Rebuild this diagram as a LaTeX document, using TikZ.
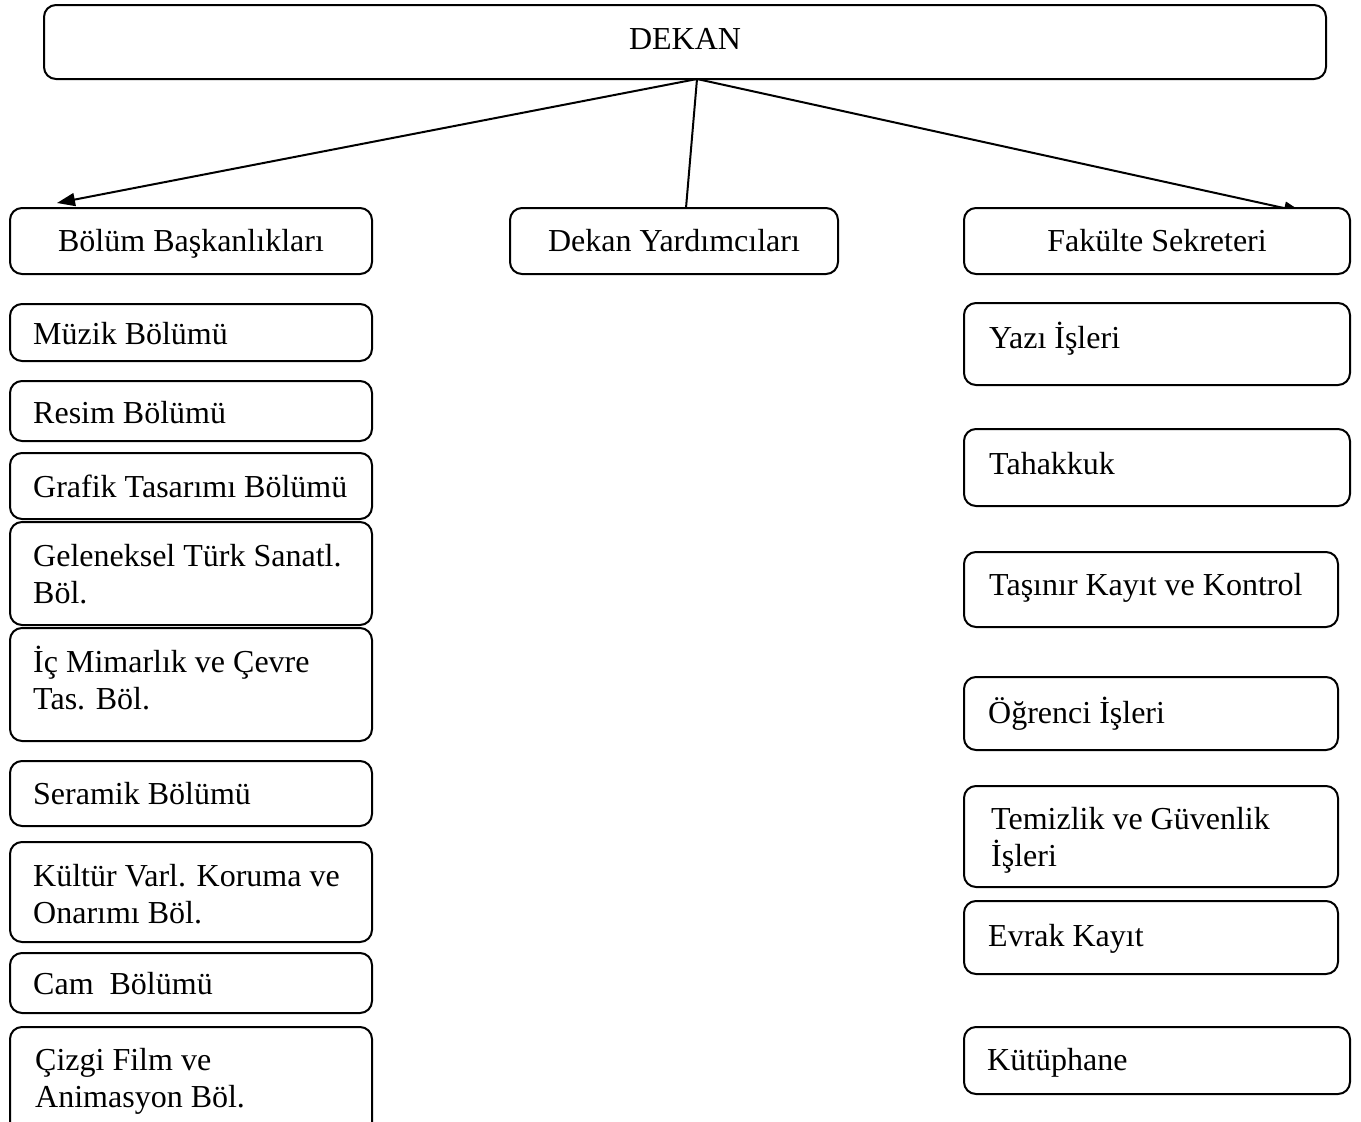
\documentclass[tikz,border=0pt]{standalone}
\usepackage{fontspec}
\setmainfont{Liberation Serif}
\usetikzlibrary{arrows.meta,calc}
\tikzset{
  box/.style={draw, line width=2pt, rounded corners=12pt, fill=white, inner sep=0pt, outer sep=0pt},
  txt/.style={inner sep=0pt, font=\fontsize{32}{37}\selectfont},
  conn/.style={line width=2pt},
  arr/.style={conn, -{Triangle[length=18pt,width=13pt]}}
}
\newcommand{\bx}[5]{\node[box, anchor=north west, minimum width={(#4-#2)*1pt}, minimum height={(#5-#3)*1pt}] (#1) at (#2,#3) {};}
\newcommand{\twol}[2]{\begin{tabular}[t]{@{}l@{}}#1\\#2\end{tabular}}
\begin{document}
\begin{tikzpicture}[x=1pt,y=-1pt]
\useasboundingbox (0,0) rectangle (1361,1122);
\clip (0,0) rectangle (1361,1122);
% connectors
\coordinate (hub) at (697,79);
\coordinate (tipL) at (57,203);
\coordinate (tipM) at (686,208);
\coordinate (tipR) at (1302,212);
\draw[arr] (hub) -- (tipL);
\draw[conn] (hub) -- (tipM);
\draw[arr] (hub) -- (tipR);
% top
\bx{dekan}{44}{5}{1326}{79}
\node[txt, anchor=base] (dekant) at (685,49) {DEKAN};
\bx{bolum}{10}{208}{372}{274}
\node[txt, anchor=base] (bolumt) at (191,251) {Bölüm Başkanlıkları};
\bx{yard}{510}{208}{838}{274}
\node[txt, anchor=base] (yardt) at (674,251) {Dekan Yardımcıları};
\bx{sekr}{964}{208}{1350}{274}
\node[txt, anchor=base] (sekrt) at (1157,251) {Fakülte Sekreteri};
% left column
\bx{L1}{10}{304}{372}{361}
\node[txt, anchor=base west] (L1t) at (33,344) {Müzik Bölümü};
\bx{L2}{10}{381}{372}{441}
\node[txt, anchor=base west] (L2t) at (33,423) {Resim Bölümü};
\bx{L3}{10}{453}{372}{519}
\node[txt, anchor=base west] (L3t) at (33,497) {Grafik Tasarımı Bölümü};
\bx{L4}{10}{522}{372}{625}
\node[txt, anchor=base west] (L4t) at (33,566) {\twol{Geleneksel Türk Sanatl.}{Böl.}};
\bx{L5}{10}{628}{372}{741}
\node[txt, anchor=base west] (L5t) at (33,672) {\twol{İç Mimarlık ve Çevre}{Tas. Böl.}};
\bx{L6}{10}{761}{372}{826}
\node[txt, anchor=base west] (L6t) at (33,804) {Seramik Bölümü};
\bx{L7}{10}{842}{372}{942}
\node[txt, anchor=base west] (L7t) at (33,886) {\twol{Kültür Varl. Koruma ve}{Onarımı Böl.}};
\bx{L8}{10}{953}{372}{1013}
\node[txt, anchor=base west] (L8t) at (33,994) {Cam\ \ Bölümü};
\bx{L9}{10}{1027}{372}{1150}
\node[txt, anchor=base west] (L9t) at (35,1070) {\twol{Çizgi Film ve}{Animasyon Böl.}};
% right column
\bx{R1}{964}{303}{1350}{385}
\node[txt, anchor=base west] (R1t) at (989,348) {Yazı İşleri};
\bx{R2}{964}{429}{1350}{506}
\node[txt, anchor=base west] (R2t) at (989,474) {Tahakkuk};
\bx{R3}{964}{552}{1338}{627}
\node[txt, anchor=base west] (R3t) at (989,595) {Taşınır Kayıt ve Kontrol};
\bx{R4}{964}{677}{1338}{750}
\node[txt, anchor=base west] (R4t) at (988,723) {Öğrenci İşleri};
\bx{R5}{964}{786}{1338}{887}
\node[txt, anchor=base west] (R5t) at (991,829) {\twol{Temizlik ve Güvenlik}{İşleri}};
\bx{R6}{964}{901}{1338}{974}
\node[txt, anchor=base west] (R6t) at (988,946) {Evrak Kayıt};
\bx{R7}{964}{1027}{1350}{1094}
\node[txt, anchor=base west] (R7t) at (987,1070) {Kütüphane};
\end{tikzpicture}
\end{document}
